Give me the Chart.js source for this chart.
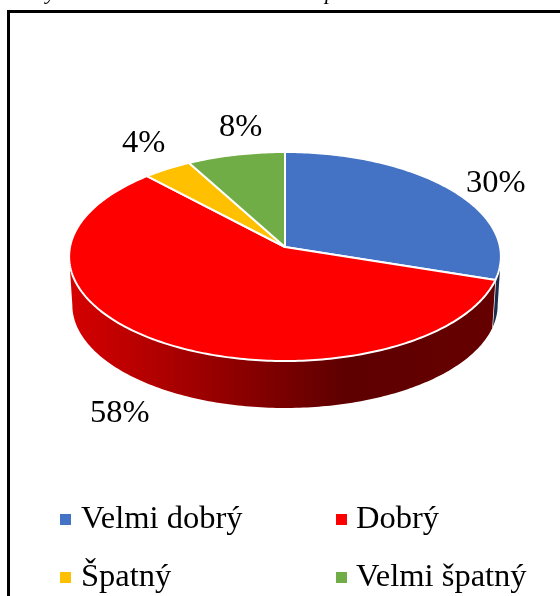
<!DOCTYPE html>
<html><head><meta charset="utf-8">
<style>html,body{margin:0;padding:0;background:#fff}#w{position:relative;width:560px;height:596px;overflow:hidden}canvas{display:block}</style>
<script src="https://cdn.jsdelivr.net/npm/chart.js@4"></script></head>
<body><div id="w"><canvas id="c" width="560" height="596"></canvas></div>
<script>
const categories = ['Velmi dobrý', 'Dobrý', 'Špatný', 'Velmi špatný'];
const shareValues = [30, 58, 4, 8];
const sliceColors = ['#4472C4', '#FF0000', '#FFC000', '#70AD47'];
const captionRemnants = ['y', 'p'];

const FONT = '"Liberation Serif"';
const TILT = 0.482, PERSP = -0.0909, DEPTH_Y = 48.7, DEPTH_S = 0.985;

function project(el, th, bottom) {
  const u = Math.sin(th), v = -Math.cos(th), w = 1 + PERSP * v;
  const s = bottom ? DEPTH_S : 1, R = el.outerRadius * s;
  return [el.x + R * u / w, el.y + (bottom ? DEPTH_Y : 0) + R * TILT * v / w];
}
function edge(ctx, el, a, b, bottom) {
  const n = Math.max(2, Math.ceil(Math.abs(b - a) * 60));
  for (let i = 0; i <= n; i++) { const p = project(el, a + (b - a) * i / n, bottom); ctx.lineTo(p[0], p[1]); }
}
function rgb(hex) { return [1, 3, 5].map(i => parseInt(hex.substr(i, 2), 16)); }
function shade(c, f) { return 'rgb(' + c.map(x => Math.round(x * f)).join(',') + ')'; }

const pie3d = {
  id: 'pie3d',
  beforeDatasetDraw(chart, args) {
    const ctx = chart.ctx, els = args.meta.data;
    const front0 = Math.acos(PERSP), front1 = 2 * Math.PI - front0;
    ctx.save();
    els.forEach((el, i) => {
      const a = Math.max(el.startAngle + Math.PI / 2, front0), b = Math.min(el.endAngle + Math.PI / 2, front1);
      if (b <= a) return;
      const base = rgb(sliceColors[i]);
      const g = ctx.createLinearGradient(el.x - el.outerRadius, 0, el.x + el.outerRadius, 0);
      g.addColorStop(0, shade(base, 0.84));
      g.addColorStop(0.64, shade(base, 0.37));
      g.addColorStop(1, shade(base, 0.4));
      ctx.beginPath();
      edge(ctx, el, a, b, false);
      edge(ctx, el, b, a, true);
      ctx.closePath();
      ctx.fillStyle = g;
      ctx.fill();
      if (i === 0) {
        const t = project(el, b, false), d = project(el, b, true);
        ctx.strokeStyle = '#fff'; ctx.lineWidth = 1.4;
        ctx.beginPath(); ctx.moveTo(t[0], t[1]); ctx.lineTo(d[0], d[1]); ctx.stroke();
      }
    });
    els.forEach((el, i) => {
      const a = el.startAngle + Math.PI / 2, b = el.endAngle + Math.PI / 2;
      ctx.beginPath();
      ctx.moveTo(el.x, el.y);
      edge(ctx, el, a, b, false);
      ctx.closePath();
      ctx.fillStyle = sliceColors[i];
      ctx.fill();
      ctx.strokeStyle = '#fff'; ctx.lineWidth = 2; ctx.lineJoin = 'round';
      ctx.stroke();
    });
    ctx.restore();
    return false;
  },
  afterDraw(chart) {
    const ctx = chart.ctx;
    ctx.save();
    ctx.strokeStyle = '#000'; ctx.lineWidth = 3;
    ctx.beginPath(); ctx.moveTo(8.5, 600); ctx.lineTo(8.5, 11.5); ctx.lineTo(560, 11.5); ctx.stroke();
    ctx.fillStyle = '#000'; ctx.textBaseline = 'alphabetic'; ctx.textAlign = 'left';
    ctx.font = 'italic 22px ' + FONT;
    ctx.fillText(captionRemnants[0], 46, -1);
    ctx.fillText(captionRemnants[1], 325, -1);
    ctx.font = '32.5px ' + FONT;
    const labelPos = [[466, 192], [90, 422], [122, 152], [219, 136]];
    shareValues.forEach((v, i) => ctx.fillText(v + '%', labelPos[i][0], labelPos[i][1]));
    const legendPos = [[60, 528, 81], [336, 528, 356], [60, 586, 81], [336, 586, 356]];
    categories.forEach((t, i) => {
      const p = legendPos[i];
      ctx.fillStyle = sliceColors[i];
      ctx.fillRect(p[0], p[1] - 14, 11, 11);
      ctx.fillStyle = '#000';
      ctx.fillText(t, p[2], p[1]);
    });
    ctx.restore();
  }
};

new Chart(document.getElementById('c'), {
  type: 'pie',
  data: { labels: categories, datasets: [{ data: shareValues, backgroundColor: sliceColors, borderColor: '#fff', borderWidth: 0 }] },
  options: {
    responsive: false, animation: false,
    layout: { padding: { left: 70, right: 60, top: 32, bottom: 134 } },
    plugins: { legend: { display: false }, tooltip: { enabled: false } }
  },
  plugins: [pie3d]
});
</script></body></html>
